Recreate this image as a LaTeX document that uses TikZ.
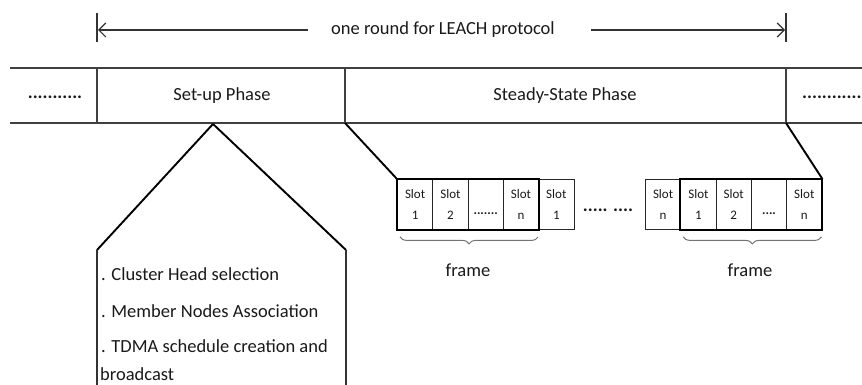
\documentclass[tikz,border=0pt]{standalone}
\usepackage{fontspec}
\setmainfont{Carlito}
\usetikzlibrary{decorations.pathreplacing,arrows.meta}
\begin{document}
\begin{tikzpicture}[x=1pt,y=-1pt,
  lbl/.style={font=\fontsize{18.5}{22}\selectfont, inner sep=0pt, text=black!90},
  slotbox/.style={draw=black!85, line width=0.9pt, minimum width=35.3pt, minimum height=50pt,
    inner sep=0pt, align=center, anchor=north west, text=black!90,
    font=\fontsize{13}{21}\selectfont},
  slotdots/.style={inner sep=0pt, font=\fontsize{13}{15}\selectfont\bfseries, text=black!90},
  rowline/.style={draw=black!75, line width=1.3pt},
  boldline/.style={line width=1.9pt, draw=black},
  framebox/.style={line width=2pt, draw=black},
  bracket/.style={draw=black!55, line width=1pt, decorate, decoration={brace, amplitude=7pt, mirror}},
  roundarrow/.style={draw=black!80, line width=1.1pt, -{Straight Barb[length=7pt,width=14pt]}},
  bar/.style={draw=black!80, line width=1.2pt}]
\useasboundingbox (0,0) rectangle (862,385);

% top arrow
\node[lbl] (round) at (443,30) {one round for LEACH protocol};
\coordinate (lbarT) at (97,13); \coordinate (lbarB) at (97,42);
\coordinate (rbarT) at (786,13); \coordinate (rbarB) at (786,42);
\coordinate (la) at (98,30); \coordinate (ra) at (785,30);
\draw[bar] (lbarT) -- (lbarB);
\draw[bar] (rbarT) -- (rbarB);
\draw[roundarrow] ([xshift=-23pt]round.west) -- (la);
\draw[roundarrow] ([xshift=36pt]round.east) -- (ra);

% phase row
\coordinate (rowTL) at (10,68); \coordinate (rowTR) at (862,68);
\coordinate (rowBL) at (10,123); \coordinate (rowBR) at (862,123);
\draw[rowline] (rowTL) -- (rowTR);
\draw[rowline] (rowBL) -- (rowBR);
\coordinate (d1t) at (97,68);  \coordinate (d1b) at (97,123);
\coordinate (d2t) at (345,68); \coordinate (d2b) at (345,123);
\coordinate (d3t) at (786,68); \coordinate (d3b) at (786,123);
\draw[rowline] (d1t) -- (d1b);
\draw[rowline] (d2t) -- (d2b);
\draw[rowline] (d3t) -- (d3b);
\node[lbl] (ldots) at (55,97) {\bfseries ...........};
\node[lbl] (setup) at (222,96) {Set-up Phase};
\node[lbl] (steady) at (565,96) {Steady-State Phase};
\node[lbl,anchor=west] (rdots) at (802,97) {\bfseries ............};

% set-up expansion
\coordinate (apex) at (213,124);
\coordinate (tl) at (97,250); \coordinate (tr) at (346,250);
\coordinate (bl) at (97,385); \coordinate (br) at (346,385);
\draw[boldline] (apex) -- (tl);
\draw[boldline] (apex) -- (tr);
\draw[bar,line width=1.4pt] (tl) -- (bl);
\draw[bar,line width=1.4pt] (tr) -- (br);
\node[lbl,anchor=west] (b1) at (101,274) {. Cluster Head selection};
\node[lbl,anchor=west] (b2) at (101,311) {. Member Nodes Association};
\node[lbl,anchor=west] (b3) at (101,346) {. TDMA schedule creation and};
\node[lbl,anchor=west] (b4) at (100,374) {broadcast};

% left slots
\node[slotbox] (s1) at (397,179) {Slot\\1};
\node[slotbox] (s2) at (432.3,179) {Slot\\2};
\node[slotbox] (s3) at (467.6,179) {};
\node[slotbox] (s4) at (502.9,179) {Slot\\n};
\node[slotbox] (s5) at (538.2,179) {Slot\\1};
\node[slotdots] (s3d) at ([yshift=-9pt]s3.center) {.......};
\draw[framebox] (s1.north west) rectangle (s4.south east);

\node[lbl] (mid) at (608,210) {\bfseries ..... ....};

% right slots
\node[slotbox] (r0) at (645,179) {Slot\\n};
\node[slotbox] (r1) at (680.3,179) {Slot\\1};
\node[slotbox] (r2) at (715.6,179) {Slot\\2};
\node[slotbox] (r3) at (750.9,179) {};
\node[slotbox] (r4) at (786.2,179) {Slot\\n};
\node[slotdots] (r3d) at ([yshift=-9pt]r3.center) {....};
\draw[framebox] (r1.north west) rectangle (r4.south east);

% connectors from steady-state phase
\draw[boldline] (d2b) -- (s1.north west);
\draw[boldline] (d3b) -- (r4.north east);

% braces
\draw[bracket] ([shift={(3pt,-7pt)}]s1.south west) -- ([shift={(-1pt,-7pt)}]s4.south east);
\draw[bracket] ([shift={(3pt,-7pt)}]r1.south west) -- ([shift={(-1pt,-7pt)}]r4.south east);
\node[lbl] (f1) at (468,270) {frame};
\node[lbl] (f2) at (750,270) {frame};
\end{tikzpicture}
\end{document}
